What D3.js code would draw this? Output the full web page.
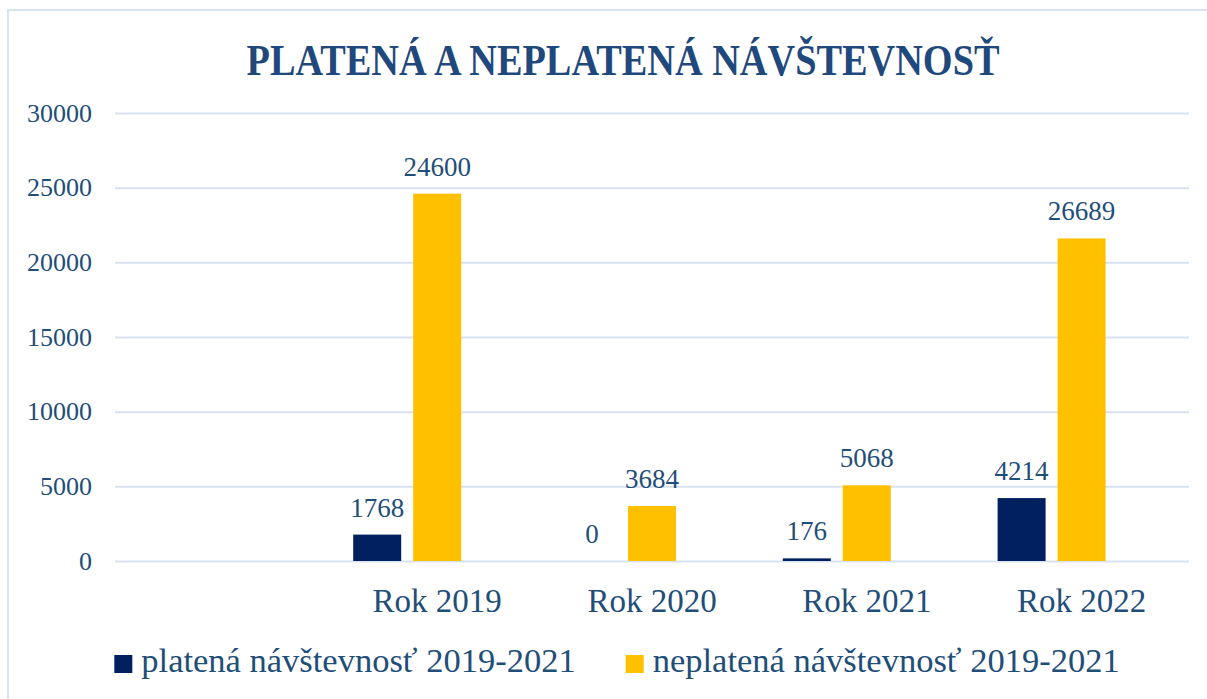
<!DOCTYPE html>
<html lang="sk">
<head>
<meta charset="utf-8">
<script src="https://cdn.jsdelivr.net/npm/d3@7"></script>
<style>
  html, body { margin: 0; padding: 0; background: #fff; }
  svg { display: block; }
</style>
</head>
<body>
<div id="chart"></div>
<script>
// Chart data (first category is empty in the source chart)
const categories = ["", "Rok 2019", "Rok 2020", "Rok 2021", "Rok 2022"];
const seriesNames = ["platená návštevnosť 2019-2021", "neplatená návštevnosť 2019-2021"];
const platena = [null, 1768, 0, 176, 4214];
// 2022 bar is drawn lower than its label in the original (~21600)
const neplatena = [null, 24600, 3684, 5068, 21600];
const platenaLabels = [null, "1768", "0", "176", "4214"];
const neplatenaLabels = [null, "24600", "3684", "5068", "26689"];
const yTicks = [0, 5000, 10000, 15000, 20000, 25000, 30000];

const width = 1207, height = 699;
const margin = { top: 113, right: 18, bottom: 138, left: 115 };
const textColor = "#1F4E79";
const gridColor = "#D9E2F3";
const colors = ["#002060", "#FFC000"];
const font = "'Liberation Serif', 'DejaVu Serif', serif";

const svg = d3.select("#chart").append("svg")
    .attr("width", width)
    .attr("height", height);

// chart border
svg.append("rect")
    .attr("x", 8)
    .attr("y", 10)
    .attr("width", width + 20)
    .attr("height", height + 20)
    .attr("fill", "none")
    .attr("stroke", gridColor)
    .attr("stroke-width", 2);

// Title
svg.append("text")
    .attr("x", 623)
    .attr("y", 75)
    .attr("text-anchor", "middle")
    .attr("textLength", 753)
    .attr("lengthAdjust", "spacingAndGlyphs")
    .style("font-family", font)
    .style("font-weight", "bold")
    .style("font-size", "44px")
    .style("fill", "#1F497D")
    .text("PLATENÁ A NEPLATENÁ NÁVŠTEVNOSŤ");

const innerW = width - margin.left - margin.right;
const innerH = height - margin.top - margin.bottom;

const g = svg.append("g")
    .attr("transform", `translate(${margin.left},${margin.top})`);

// Scales
const x0 = d3.scaleBand()
    .domain(categories)
    .range([0, innerW])
    .padding(0);

// three slots per category, the third one is empty in the source
const x1 = d3.scaleBand()
    .domain([0, 1, 2])
    .range([0, x0.bandwidth()])
    .paddingInner(0.2)
    .paddingOuter(0.39);

const y = d3.scaleLinear()
    .domain([0, 30000])
    .range([innerH, 0]);

// Grid lines
g.append("g")
    .attr("class", "grid")
    .call(d3.axisLeft(y)
        .tickValues(yTicks)
        .tickSize(-innerW)
        .tickFormat(""))
    .call(s => s.select(".domain").remove())
    .selectAll("line")
    .attr("stroke", gridColor)
    .attr("stroke-width", 2);

// Y axis labels
const yAxis = g.append("g")
    .call(d3.axisLeft(y).tickValues(yTicks).tickSize(0).tickPadding(23).tickFormat(d3.format("d")));
yAxis.select(".domain").remove();
yAxis.selectAll("text")
    .style("font-family", font)
    .style("font-size", "26px")
    .style("fill", textColor);

// X axis labels
const xAxis = g.append("g")
    .attr("transform", `translate(0,${innerH})`)
    .call(d3.axisBottom(x0).tickSize(0).tickPadding(28));
xAxis.select(".domain").remove();
xAxis.selectAll("text")
    .style("font-family", font)
    .style("font-size", "33px")
    .style("fill", textColor);

// Bars
const seriesData = [
    { values: platena, labels: platenaLabels },
    { values: neplatena, labels: neplatenaLabels }
];

seriesData.forEach((s, si) => {
    const rows = categories
        .map((c, i) => ({ cat: c, value: s.values[i], label: s.labels[i] }))
        .filter(d => d.value !== null);

    g.selectAll(".bar-" + si)
        .data(rows)
        .enter()
        .append("rect")
        .attr("class", "bar-" + si)
        .attr("x", d => x0(d.cat) + x1(si))
        .attr("y", d => y(d.value))
        .attr("width", x1.bandwidth())
        .attr("height", d => innerH - y(d.value))
        .attr("fill", colors[si]);

    g.selectAll(".label-" + si)
        .data(rows)
        .enter()
        .append("text")
        .attr("class", "label-" + si)
        .attr("x", d => x0(d.cat) + x1(si) + x1.bandwidth() / 2)
        .attr("y", d => y(d.value) - 18)
        .attr("text-anchor", "middle")
        .style("font-family", font)
        .style("font-size", "27px")
        .style("fill", textColor)
        .text(d => d.label);
});

// Legend
const legend = svg.append("g")
    .attr("transform", "translate(0, 672)");

let lx = 0;
const items = [];
seriesNames.forEach((name, i) => {
    const item = legend.append("g");
    item.append("rect")
        .attr("x", 0)
        .attr("y", -17)
        .attr("width", 18)
        .attr("height", 18)
        .attr("fill", colors[i]);
    const t = item.append("text")
        .attr("x", 27)
        .attr("y", 0)
        .style("font-family", font)
        .style("font-size", "34.5px")
        .style("fill", textColor)
        .text(name);
    const w = 27 + t.node().getComputedTextLength();
    items.push({ item, w });
});

const gap = 50;
const totalW = d3.sum(items, d => d.w) + gap * (items.length - 1);
lx = 617 - totalW / 2;
items.forEach(d => {
    d.item.attr("transform", `translate(${lx},0)`);
    lx += d.w + gap;
});
</script>
</body>
</html>
